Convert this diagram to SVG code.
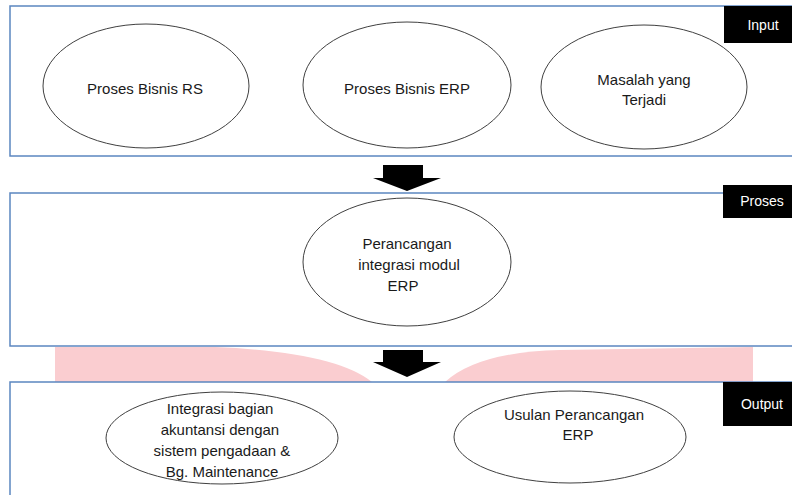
<svg xmlns="http://www.w3.org/2000/svg" width="792" height="495" viewBox="0 0 792 495">
<style>
.panel{fill:#ffffff;stroke:#5B86C0;stroke-width:1.5}
.node{fill:#ffffff;stroke:#404040;stroke-width:1}
.t{font-family:"Liberation Sans",Arial,sans-serif;font-size:15px;fill:#1a1a1a;text-anchor:middle}
.lab{fill:#000000}
.lt{font-family:"Liberation Sans",Arial,sans-serif;font-size:14px;fill:#ffffff;text-anchor:middle}
.arrow{fill:#000000}
.bg{fill:#FACDD0}
</style>
<rect x="0" y="0" width="792" height="495" fill="#ffffff"/>
<g id="watermark">
<path class="bg" d="M55,347 L215,347 Q335,352 372,382 L55,382 Z"/>
<path class="bg" d="M445,382 Q478,352 560,350 L753,347 L753,382 Z"/>
</g>
<g id="panel-input">
<rect class="panel" x="10" y="6" width="800" height="150"/>
<rect class="lab" x="724" y="6" width="68" height="37"/>
<text class="lt" x="763" y="30">Input</text>
</g>
<g id="panel-proses">
<rect class="panel" x="10" y="193" width="800" height="153"/>
<rect class="lab" x="723" y="185" width="69" height="33"/>
<text class="lt" x="762" y="206">Proses</text>
</g>
<g id="panel-output">
<rect class="panel" x="10" y="382" width="800" height="130"/>
<rect class="lab" x="723" y="382" width="69" height="44"/>
<text class="lt" x="762" y="409">Output</text>
</g>
<g id="connectors">
<path class="arrow" d="M383,165 H423 V178 H441 L407,191 L373,178 H383 Z"/>
<path class="arrow" d="M383,350 H423 V362 H441 L407,377 L373,362 H383 Z"/>
</g>
<g id="node-rs">
<ellipse class="node" cx="146" cy="86" rx="103" ry="62"/>
<text class="t" x="145" y="94">Proses Bisnis RS</text>
</g>
<g id="node-erp">
<ellipse class="node" cx="407" cy="85" rx="104" ry="63"/>
<text class="t" x="407" y="94">Proses Bisnis ERP</text>
</g>
<g id="node-masalah">
<ellipse class="node" cx="644" cy="87" rx="103" ry="62"/>
<text class="t" x="644" y="85">Masalah yang</text>
<text class="t" x="644" y="105">Terjadi</text>
</g>
<g id="node-perancangan">
<ellipse class="node" cx="407" cy="262" rx="104" ry="64"/>
<text class="t" x="407" y="249">Perancangan</text>
<text class="t" x="409" y="270">integrasi modul</text>
<text class="t" x="403" y="291">ERP</text>
</g>
<g id="node-integrasi">
<ellipse class="node" cx="222" cy="438" rx="116" ry="46"/>
<text class="t" x="220" y="414">Integrasi bagian</text>
<text class="t" x="220" y="435">akuntansi dengan</text>
<text class="t" x="222" y="456">sistem pengadaan &amp;</text>
<text class="t" x="222" y="477">Bg. Maintenance</text>
</g>
<g id="node-usulan">
<ellipse class="node" cx="570" cy="437" rx="116" ry="46"/>
<text class="t" x="574" y="420">Usulan Perancangan</text>
<text class="t" x="578" y="440">ERP</text>
</g>
</svg>
